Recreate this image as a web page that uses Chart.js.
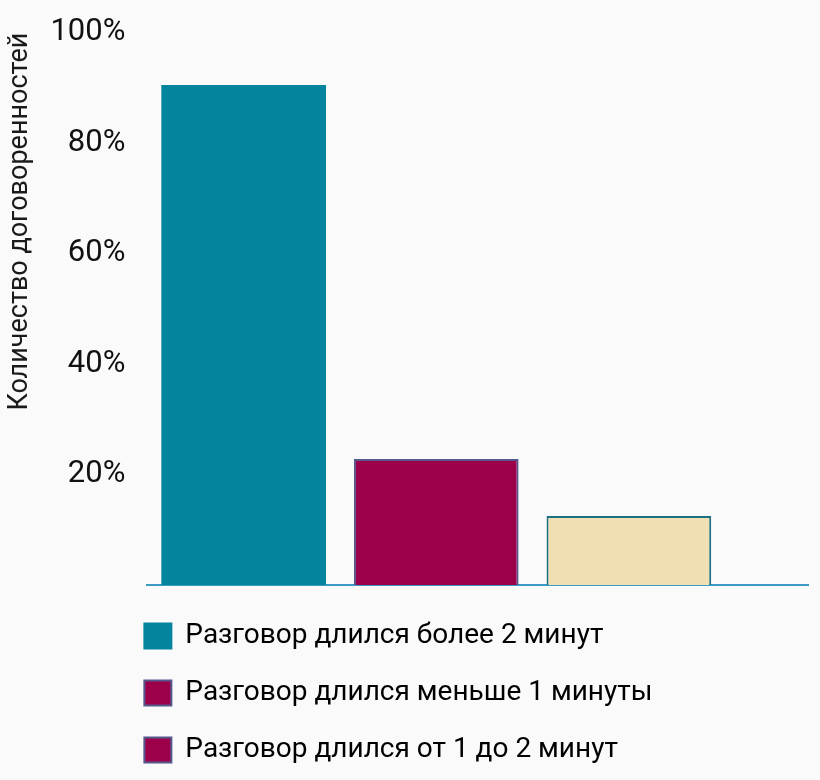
<!DOCTYPE html>
<html>
<head>
<meta charset="utf-8">
<script src="https://cdn.jsdelivr.net/npm/chart.js@4"></script>
<style>
  html, body { margin: 0; padding: 0; background: #fafafa; }
  #wrap { width: 820px; height: 780px; }
</style>
</head>
<body>
<div id="wrap"><canvas id="chart" width="820" height="780"></canvas></div>
<script>
// данные графика
const categories = [
  "Разговор длился более 2 минут",
  "Разговор длился меньше 1 минуты",
  "Разговор длился от 1 до 2 минут",
];
const positions = [0.5, 1.5, 2.5];
const shares = [90.5, 22.8, 12.5];
const barColors = ["#05849e", "#9c004a", "#f0dfb2"];
const barBorders = ["#05849e", "#55588c", "#1d6f82"];
const legendColors = ["#05849e", "#9c004a", "#9c004a"];
const legendBorders = ["#05849e", "#55588c", "#55588c"];
const yTicks = [0, 20, 40, 60, 80, 100];
const yTitle = "Количество договоренностей";

Chart.defaults.font.family = "Roboto, 'Liberation Sans', sans-serif";

// сдвигаем легенду к левому краю области графика
const legendShift = {
  id: "legendShift",
  afterLayout(chart) {
    const lg = chart.legend;
    lg.left = chart.chartArea.left - lg.options.labels.padding - 3;
  },
};

const ctx = document.getElementById("chart").getContext("2d");
new Chart(ctx, {
  type: "bar",
  data: {
    datasets: [
      {
        data: positions.map((x, i) => ({ x: x, y: shares[i] })),
        backgroundColor: barColors,
        borderColor: barBorders,
        borderWidth: [0, 2, 2],
        categoryPercentage: 1,
        barPercentage: 0.855,
      },
    ],
  },
  options: {
    responsive: false,
    animation: false,
    layout: { padding: { top: 8, right: 12, bottom: 6, left: 4 } },
    plugins: {
      tooltip: { enabled: false },
      legend: {
        position: "bottom",
        align: "start",
        labels: {
          color: "#111",
          font: { size: 28 },
          boxWidth: 27,
          boxHeight: 25,
          padding: 29,
          generateLabels: () =>
            categories.map((c, i) => ({
              text: c,
              fillStyle: legendColors[i],
              strokeStyle: legendBorders[i],
              lineWidth: 2,
              hidden: false,
              index: i,
            })),
        },
      },
    },
    scales: {
      x: {
        type: "linear",
        min: 0,
        max: 3.43,
        offset: false,
        grid: { display: false, offset: false },
        border: { display: true, color: "#3a9cc4", width: 2 },
        ticks: { display: false, stepSize: 1, includeBounds: false },
      },
      y: {
        min: 0,
        max: 100,
        afterBuildTicks: (axis) => {
          axis.ticks = yTicks.map((v) => ({ value: v }));
        },
        grid: { display: false },
        border: { display: false },
        ticks: {
          color: "#111",
          font: { size: 31 },
          padding: 14,
          callback: (v) => (v === 0 ? "" : v + "%"),
        },
        title: {
          display: true,
          text: yTitle,
          align: "end",
          color: "#1a1a1a",
          font: { size: 27 },
          padding: { top: 0, bottom: 0 },
        },
      },
    },
  },
  plugins: [legendShift],
});
</script>
</body>
</html>
